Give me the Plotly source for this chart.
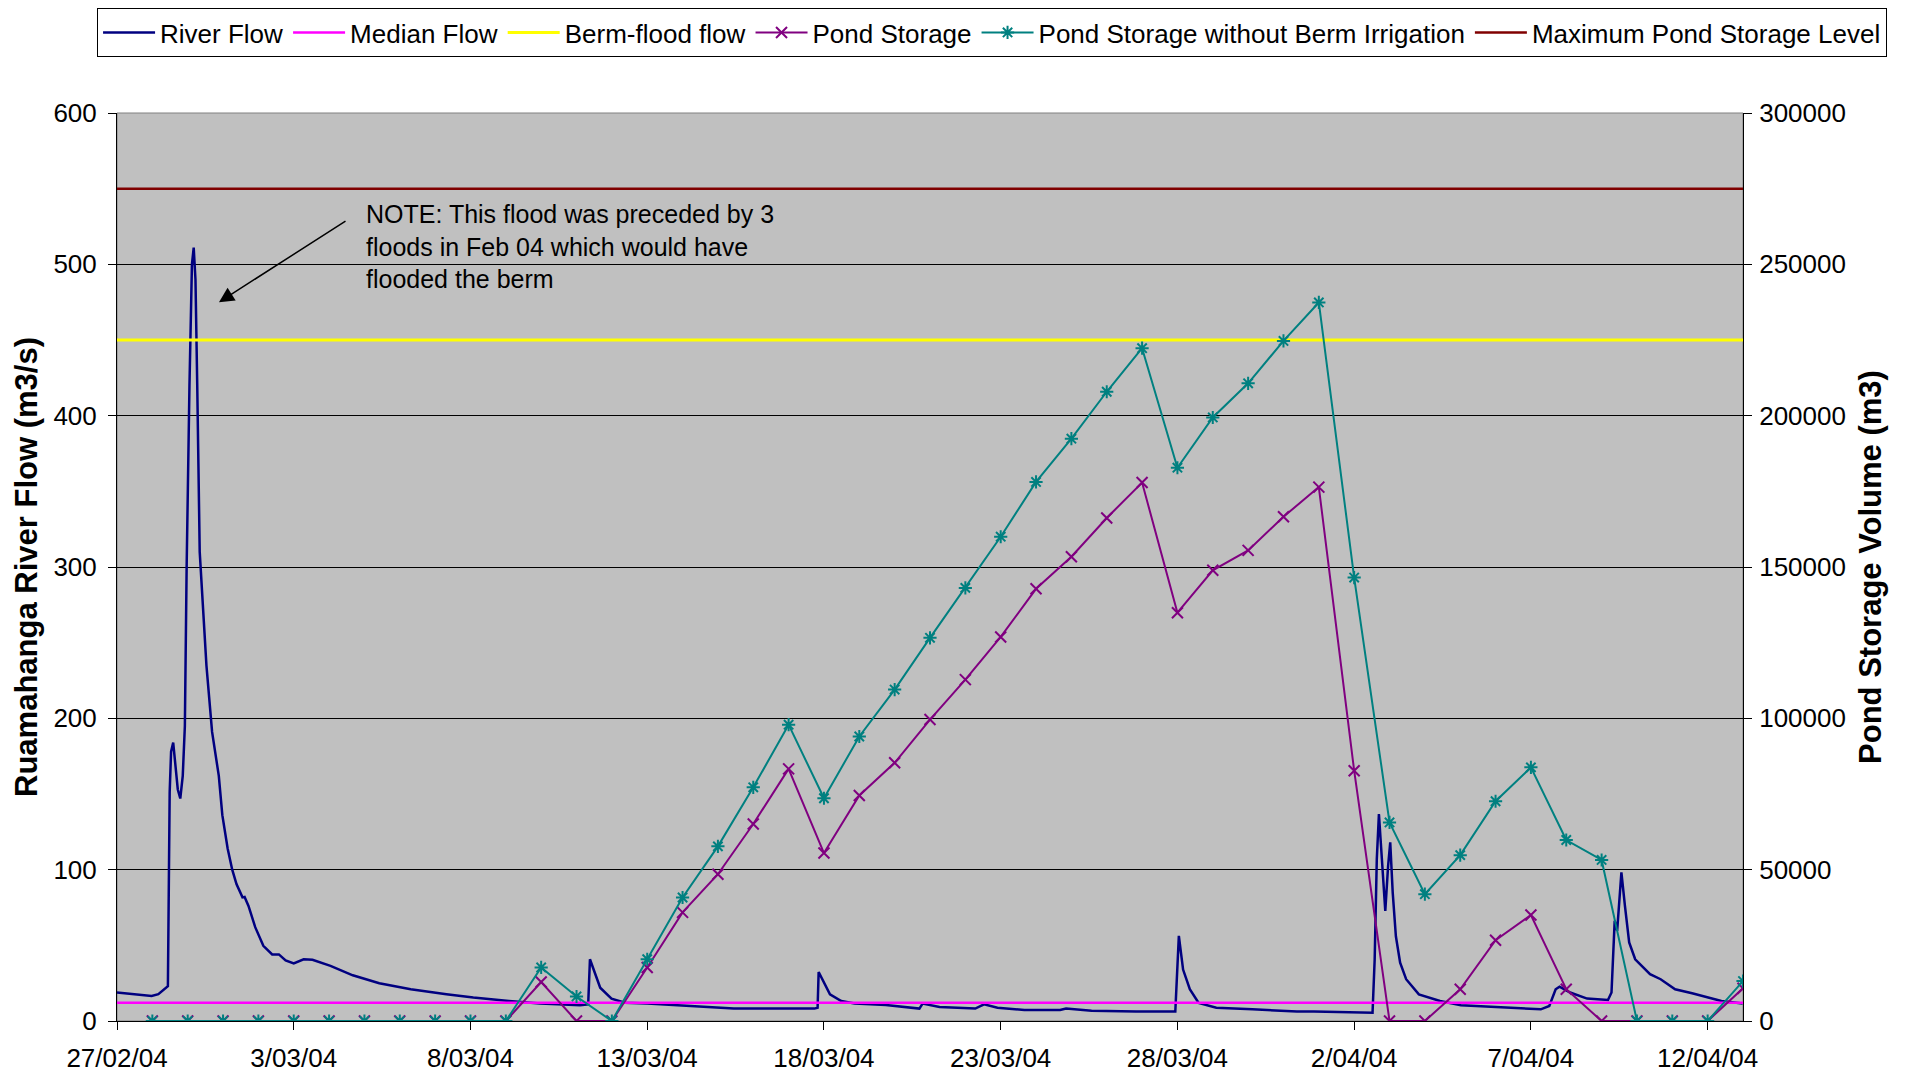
import pandas as pd
import plotly.graph_objects as go

# river flow (m3/s), time given as days since 27/02/04 00:00
river_days = [0.0, 0.5, 0.98, 1.17, 1.36, 1.44, 1.49, 1.53, 1.59, 1.65, 1.72, 1.79, 1.86, 1.92,
              1.97, 2.05, 2.12, 2.17, 2.22, 2.27, 2.34, 2.53, 2.69, 2.88, 2.98, 3.13, 3.26, 3.38,
              3.55, 3.61, 3.72, 3.91, 4.14, 4.39, 4.58, 4.77, 5.0, 5.28, 5.53, 6.04, 6.67, 7.42,
              8.31, 9.32, 10.08, 11.09, 11.97, 13.1, 13.33, 13.38, 13.48, 13.67, 13.99, 14.37,
              15.0, 16.19, 17.45, 19.73, 19.82, 19.85, 20.0, 20.17, 20.49, 20.87, 21.75, 22.51,
              22.7, 22.79, 23.27, 24.28, 24.53, 24.91, 25.67, 26.68, 26.85, 27.57, 28.83, 29.94,
              30.04, 30.16, 30.35, 30.6, 31.1, 32.12, 33.38, 33.86, 35.52, 35.58, 35.64, 35.7,
              35.78, 35.88, 35.96, 36.02, 36.09, 36.18, 36.3, 36.47, 36.83, 37.43, 38.02, 39.21,
              40.28, 40.52, 40.7, 40.81, 41.11, 41.59, 42.18, 42.28, 42.37, 42.44, 42.56, 42.66,
              42.78, 42.95, 43.37, 43.67, 44.08, 44.56, 44.92, 45.39, 45.99]
river_flow = [18.8, 17.8, 16.6, 17.7, 21, 23, 151, 178, 184, 169, 153, 147, 162, 195,
              300, 420, 500, 511, 490, 420, 310, 235, 191, 162, 136, 114, 100, 90.5,
              81.7, 82, 76, 62, 49.7, 44, 44, 40, 38, 40.8, 40.4, 36.4, 30.2, 25,
              21, 17.7, 15.5, 13.2, 11.5, 10.4, 11, 40.8, 34, 22, 14.8, 12.1,
              11.5, 9.9, 8.2, 8.2, 8.8, 32.4, 25, 17.6, 13.2, 11.5, 10.6, 8.8,
              8.2, 11.5, 9.3, 8.2, 11, 8.8, 7.3, 7.3, 8.2, 6.8, 6.2, 6.2,
              56.3, 34, 21, 12, 8.8, 7.7, 6.2, 6.2, 5.5, 40.8, 107, 136.8,
              107, 72.8, 102.6, 118, 85, 56, 38.6, 27.6, 17.6, 13.2, 10.4, 8.8,
              7.7, 9.9, 21, 22.7, 18.8, 14.8, 13.9, 18.8, 66.2, 59.6, 98.2, 76,
              51.9, 40.8, 30.9, 27.6, 21, 18.3, 16.1, 13.2, 11.5]

# daily pond storage (m3), 28/02/04 to 13/04/04
storage_dates = pd.date_range("2004-02-28", "2004-04-13", freq="D")
pond_storage = [0, 0, 0, 0, 0, 0, 0, 0, 0, 0, 0,
                12900, 0, 0, 17700, 35900, 48500, 65100, 83300, 55500, 74500,
                85300, 99600, 112800, 126900, 142800, 153400, 166200, 177900, 134900, 148900,
                155500, 166600, 176400, 82700, 0, 0, 10500, 26700, 35000, 10500,
                0, 0, 0, 0, 10800]
pond_no_berm = [0, 0, 0, 0, 0, 0, 0, 0, 0, 0, 0,
                17700, 8100, 0, 20400, 40800, 57700, 77200, 97900, 73600, 94000,
                109500, 126600, 143100, 160000, 178100, 192400, 207900, 222300, 182800, 199400,
                210700, 224700, 237400, 146500, 65600, 41900, 54800, 72600, 83800, 59800,
                53200, 0, 0, 0, 13200]

median_flow = 12
berm_flood_flow = 450
max_pond_level = 275000

x_start = pd.Timestamp("2004-02-27")
x_end = pd.Timestamp("2004-04-13")
tick_dates = pd.date_range("2004-02-27", "2004-04-12", freq="5D")
tick_labels = [f"{d.day}/{d.month:02d}/{d.strftime('%y')}" for d in tick_dates]

river_time = x_start + pd.to_timedelta(river_days, unit="D")
span = [x_start, x_end]

FONT = "Arial, Liberation Sans, sans-serif"

fig = go.Figure()

fig.add_trace(go.Scatter(x=river_time, y=river_flow, mode="lines", name="River Flow",
                         line=dict(color="#000080", width=2.5)))
fig.add_trace(go.Scatter(x=span, y=[median_flow] * 2, mode="lines", name="Median Flow",
                         line=dict(color="#FF00FF", width=2.5)))
fig.add_trace(go.Scatter(x=span, y=[berm_flood_flow] * 2, mode="lines", name="Berm-flood flow",
                         line=dict(color="#FFFF00", width=3)))
fig.add_trace(go.Scatter(x=storage_dates, y=pond_storage, mode="lines+markers", name="Pond Storage",
                         yaxis="y2", line=dict(color="#800080", width=2),
                         marker=dict(symbol="x-thin-open", size=11, color="#800080",
                                     line=dict(color="#800080", width=2))))
fig.add_trace(go.Scatter(x=storage_dates, y=pond_no_berm, mode="lines+markers",
                         name="Pond Storage without Berm Irrigation", yaxis="y2",
                         line=dict(color="#008080", width=2),
                         marker=dict(symbol="asterisk-open", size=11, color="#008080",
                                     line=dict(color="#008080", width=2))))
fig.add_trace(go.Scatter(x=span, y=[max_pond_level] * 2, mode="lines",
                         name="Maximum Pond Storage Level", yaxis="y2",
                         line=dict(color="#800000", width=2.5)))

# arrow + note
fig.add_annotation(x="2004-02-29 21:15", y=475, xref="x", yref="y", text="",
                   showarrow=True, ax=128, ay=-82, arrowhead=2, arrowsize=2,
                   arrowwidth=1.5, arrowcolor="black")
fig.add_annotation(x=0.152, y=512, xref="paper", yref="y", xanchor="left", yanchor="middle",
                   align="left", showarrow=False,
                   text="NOTE: This flood was preceded by 3<br>floods in Feb 04 which would have<br>flooded the berm",
                   font=dict(size=25, color="black", family=FONT))

fig.update_layout(
    width=1910,
    height=1078,
    paper_bgcolor="white",
    plot_bgcolor="#C0C0C0",
    font=dict(family=FONT, size=26, color="black"),
    # page body adds an 8px offset, margins are corrected for it
    margin=dict(l=109, r=175, t=105, b=65, autoexpand=False),
    showlegend=True,
    legend=dict(
        orientation="h",
        xref="paper", yref="paper",
        x=1.0886, xanchor="right",
        y=1.1156, yanchor="top",
        bordercolor="black", borderwidth=1,
        bgcolor="white",
        font=dict(size=26, family=FONT),
        itemwidth=52,
        tracegroupgap=0,
    ),
    xaxis=dict(
        range=[x_start, x_end],
        tickmode="array",
        tickvals=tick_dates,
        ticktext=tick_labels,
        ticks="outside", ticklen=8, tickcolor="black",
        showline=True, linecolor="black", linewidth=1,
        showgrid=False, zeroline=False,
        ticklabelstandoff=6,
        automargin=False,
    ),
    yaxis=dict(
        range=[0, 600],
        tickvals=[0, 100, 200, 300, 400, 500, 600],
        title=dict(text="<b>Ruamahanga River Flow (m3/s)</b>", standoff=6),
        ticks="outside", ticklen=8, tickcolor="black",
        showline=True, linecolor="black", linewidth=1,
        showgrid=True, gridcolor="#000000", gridwidth=1,
        zeroline=False,
        ticklabelstandoff=6,
        automargin=False,
    ),
    yaxis2=dict(
        range=[0, 300000],
        tickvals=[0, 50000, 100000, 150000, 200000, 250000, 300000],
        tickformat="d",
        title=dict(text="<b>Pond Storage Volume (m3)</b>", standoff=14),
        overlaying="y", side="right", anchor="x",
        ticks="outside", ticklen=8, tickcolor="black",
        showline=True, linecolor="black", linewidth=1,
        showgrid=False, zeroline=False,
        ticklabelstandoff=2,
        automargin=False,
    ),
)

fig.add_shape(type="rect", xref="paper", yref="paper", x0=0, x1=1, y0=0, y1=1,
              line=dict(color="#808080", width=1), layer="below")

fig.write_html("out.html")
